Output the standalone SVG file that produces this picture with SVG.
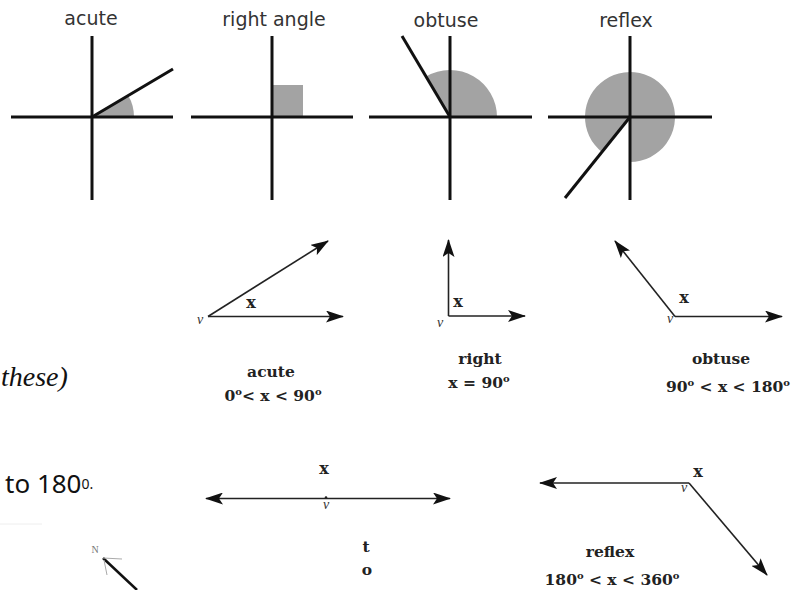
<svg xmlns="http://www.w3.org/2000/svg" width="806" height="590" viewBox="0 0 806 590">
<defs>
<style>
.ax{stroke:#111;stroke-width:3;fill:none;stroke-linecap:butt}
.sh{fill:#a3a3a3;stroke:none}
.ttl{font-family:"DejaVu Sans",sans-serif;font-size:19px;fill:#333;text-anchor:middle}
.ar{stroke:#222;stroke-width:1.6;fill:none}
.lb{font-family:"DejaVu Serif","Liberation Serif",serif;font-weight:bold;font-size:15.5px;fill:#222;text-anchor:middle}
.xl{font-family:"DejaVu Serif","Liberation Serif",serif;font-weight:bold;font-size:16px;fill:#222;text-anchor:middle}
.vl{font-family:"Liberation Serif",serif;font-style:italic;font-size:14px;fill:#333;text-anchor:middle}
.dg{font-size:10px}
</style>
<marker id="ah" viewBox="0 0 18 12" refX="17" refY="6" markerWidth="18" markerHeight="12" markerUnits="userSpaceOnUse" orient="auto">
<path d="M0,0 L18,6 L0,12 L4,6 z" fill="#111"/>
</marker>
</defs>
<rect width="806" height="590" fill="#fff"/>

<g id="top-acute">
<path class="sh" d="M92 117 L134 117 A42 42 0 0 0 128.2 95.6 Z"/>
<line class="ax" x1="11" y1="117" x2="173" y2="117"/>
<line class="ax" x1="92" y1="36" x2="92" y2="200"/>
<line class="ax" x1="92" y1="117" x2="173" y2="69"/>
<text class="ttl" x="91" y="25">acute</text>
</g>

<g id="top-right">
<rect class="sh" x="272" y="85" width="31" height="32"/>
<line class="ax" x1="191" y1="117" x2="353" y2="117"/>
<line class="ax" x1="272" y1="36" x2="272" y2="200"/>
<text class="ttl" x="274" y="26">right angle</text>
</g>

<g id="top-obtuse">
<path class="sh" d="M450 117 L497 117 A47 47 0 0 0 426.1 76.5 Z"/>
<line class="ax" x1="369" y1="117" x2="532" y2="117"/>
<line class="ax" x1="450" y1="36" x2="450" y2="200"/>
<line class="ax" x1="450" y1="117" x2="402" y2="36"/>
<text class="ttl" x="446" y="27">obtuse</text>
</g>

<g id="top-reflex">
<path class="sh" d="M630 117 L602.1 152.3 A45 45 0 1 1 630 162 Z"/>
<line class="ax" x1="548" y1="117" x2="712" y2="117"/>
<line class="ax" x1="630" y1="36" x2="630" y2="200"/>
<line class="ax" x1="630" y1="117" x2="565" y2="198"/>
<text class="ttl" x="626" y="27">reflex</text>
</g>

<g id="connectors">
<line class="ar" x1="208" y1="316.5" x2="343" y2="316.5" marker-end="url(#ah)"/>
<line class="ar" x1="208" y1="316.5" x2="328" y2="241" marker-end="url(#ah)"/>
<line class="ar" x1="448.5" y1="316" x2="448.5" y2="240" marker-end="url(#ah)"/>
<line class="ar" x1="448.5" y1="316" x2="525" y2="316" marker-end="url(#ah)"/>
<line class="ar" x1="675" y1="316.5" x2="615" y2="241" marker-end="url(#ah)"/>
<line class="ar" x1="675" y1="316.5" x2="782" y2="316.5" marker-end="url(#ah)"/>
<line class="ar" x1="326" y1="498.5" x2="206" y2="498.5" marker-end="url(#ah)"/>
<line class="ar" x1="326" y1="498.5" x2="450" y2="498.5" marker-end="url(#ah)"/>
<line class="ar" x1="689" y1="483" x2="540" y2="483" marker-end="url(#ah)"/>
<line class="ar" x1="689" y1="483" x2="767" y2="575" marker-end="url(#ah)"/>
</g>

<g id="acute">
<text class="xl" x="251" y="308">x</text>
<text class="vl" x="200" y="324">v</text>
<text class="lb" x="271" y="377">acute</text>
<text class="lb" x="273" y="401">0<tspan class="dg" dy="-6">o</tspan><tspan dy="6">&lt; x &lt; 90</tspan><tspan class="dg" dy="-6">o</tspan></text>
</g>

<g id="right">
<text class="xl" x="458" y="307">x</text>
<text class="vl" x="440" y="327">v</text>
<text class="lb" x="480" y="364">right</text>
<text class="lb" x="479" y="388">x = 90<tspan class="dg" dy="-6">o</tspan></text>
</g>

<g id="obtuse">
<text class="xl" x="684" y="303">x</text>
<text class="vl" x="670" y="323">v</text>
<text class="lb" x="721" y="364">obtuse</text>
<text class="lb" x="728" y="392">90<tspan class="dg" dy="-6">o</tspan><tspan dy="6"> &lt; x &lt; 180</tspan><tspan class="dg" dy="-6">o</tspan></text>
</g>

<g id="straight">
<circle cx="326" cy="497.5" r="1.3" fill="#222"/>
<text class="xl" x="324" y="474">x</text>
<text class="vl" x="326" y="509">v</text>
<text class="lb" x="366" y="552">t</text>
<text class="lb" x="367" y="575">o</text>
</g>

<g id="reflex">
<text class="xl" x="698" y="477">x</text>
<text class="vl" x="684" y="492">v</text>
<text class="lb" x="610" y="557">reflex</text>
<text class="lb" x="612" y="585">180<tspan class="dg" dy="-6">o</tspan><tspan dy="6"> &lt; x &lt; 360</tspan><tspan class="dg" dy="-6">o</tspan></text>
</g>

<g id="left-text">
<text x="1" y="386" font-family="'Liberation Serif',serif" font-style="italic" font-size="28" fill="#111">these)</text>
<text x="5" y="493" font-family="'Noto Sans',sans-serif" font-size="26" fill="#111">to 180<tspan font-size="14" dy="-4">0.</tspan></text>
</g>

<g id="compass">
<line x1="0" y1="524" x2="42" y2="524" stroke="#eee" stroke-width="1"/>
<text x="95" y="553" font-family="'Liberation Serif',serif" font-size="10" fill="#777" text-anchor="middle">N</text>
<line x1="137" y1="590" x2="103" y2="558" stroke="#111" stroke-width="2.5"/>
<line x1="103" y1="558" x2="122" y2="559" stroke="#aaa" stroke-width="1"/>
<line x1="104" y1="560" x2="107" y2="575" stroke="#aaa" stroke-width="1"/>
</g>
</svg>
